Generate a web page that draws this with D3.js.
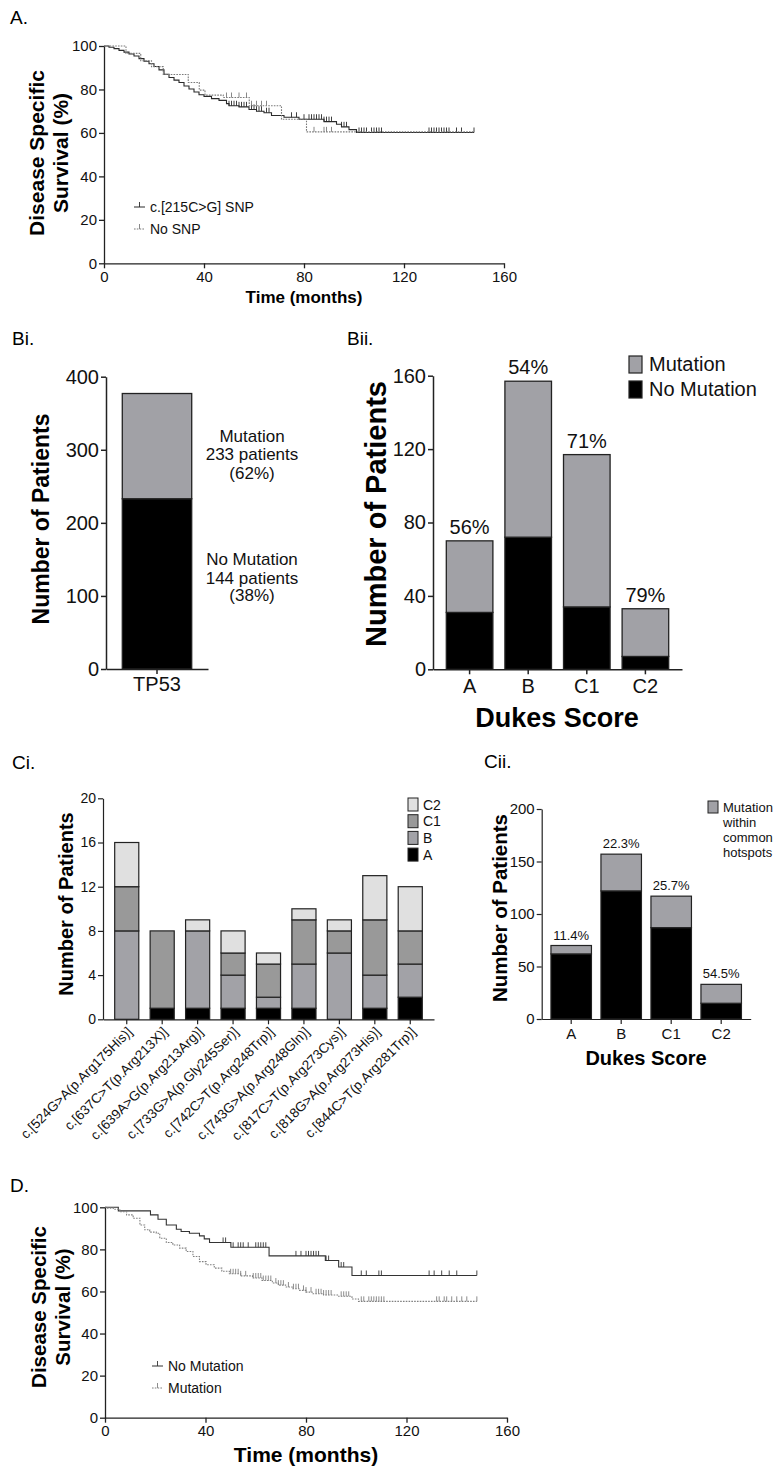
<!DOCTYPE html>
<html>
<head>
<meta charset="utf-8">
<script src="https://cdn.jsdelivr.net/npm/d3@7"></script>
<style>
body { margin: 0; background: #fff; }
svg { display: block; }
</style>
</head>
<body>
<svg width="773" height="1469"></svg>
<script>
// ---- Panel A: survival by SNP (step points [months, %]) ----
var snpSteps = [[0,100],[2,99.4],[4,98.8],[6,98],[8,97.2],[10,96.3],[12,95.4],[14,94.2],[16,93],[18,91.8],[20,90.6],[22,89],[24,87],[26,85.5],[28,84.3],[30,83.2],[32,81.6],[34,80.2],[36,78.8],[38,77.6],[40,76.8],[43,75.8],[46,75],[49,73.5],[50,72.5],[54,72],[58,70.8],[61,70],[64,69.3],[67,68],[72,67.2],[78,66.3],[88,65.2],[93,64],[95,62.8],[98,61.5],[101,60.2]];
var snpCensor = [50,51,52,53,54,55,56,57,59,60,61,62,63,65,66,75,77,80,82,83,84,85,86,87,88,89,90,91,95,96,97,102,103,104,105,107,108,109,110,111,130,131,132,133,134,135,136,137,138,141,143,148];
var noSnpSteps = [[0,100],[8.8,96.6],[14.7,93.2],[19,90.5],[23.7,86.9],[33.7,83.2],[38.1,79.7],[40.4,77.4],[47.7,76.3],[58.1,72.5],[71,66.3],[81,60.5]];
var noSnpCensor = [49,51,54,57,59,61,63,65,84,88,89,91];

// ---- Panel Bi ----
var biGenes = ["TP53"];
var biLower = [233];
var biUpper = [144];

// ---- Panel Bii ----
var dukes = ["A", "B", "C1", "C2"];
var noMutation = [31, 72, 34, 7];
var mutation = [39, 85, 83, 26];
var mutationPct = ["56%", "54%", "71%", "79%"];

// ---- Panel Ci ----
var hotspots = ["c.[524G>A(p.Arg175His)]", "c.[637C>T(p.Arg213X)]", "c.[639A>G(p.Arg213Arg)]",
  "c.[733G>A(p.Gly245Ser)]", "c.[742C>T(p.Arg248Trp)]", "c.[743G>A(p.Arg248Gln)]",
  "c.[817C>T(p.Arg273Cys)]", "c.[818G>A(p.Arg273His)]", "c.[844C>T(p.Arg281Trp)]"];
var ciA  = [0, 1, 1, 1, 1, 1, 0, 1, 2];
var ciB  = [8, 0, 7, 3, 1, 4, 6, 3, 3];
var ciC1 = [4, 7, 0, 2, 3, 4, 2, 5, 3];
var ciC2 = [4, 0, 1, 2, 1, 1, 1, 4, 4];

// ---- Panel Cii ----
var hotspotOther = [62, 122, 87, 15];
var hotspotMut = [8, 35, 30, 18];
var hotspotPct = ["11.4%", "22.3%", "25.7%", "54.5%"];

// ---- Panel D: survival by mutation status ----
var noMutSteps = [[0,100],[5.3,98.3],[18.1,96.4],[21.1,94.3],[24.4,91.6],[28.4,89.6],[30.3,88.5],[33.6,87.7],[37.6,86.4],[39.5,85],[41.6,83.3],[50.1,81],[65.3,76.9],[87.7,74.7],[93,71.6],[98.3,67.6]];
var noMutCensor = [47,48,51,53,54,55,57,60,61,62,63,64,76,78,80,81,82,83,84,85,88,89,94,95,102,104,109,110,129,131,134,137,140,148];
var mutSteps = [[0,100],[1,99.6],[3.3,99.1],[5.9,97.9],[8.6,96.4],[11.2,94.8],[13.9,91.6],[15.8,89.3],[17.8,88.2],[20.4,87.7],[21.8,85.3],[24.4,83.3],[27,82.1],[29.7,80.6],[32.3,79],[35,76.6],[37.6,74.2],[40.2,72.7],[43.5,71.1],[46.5,69.6],[49.5,68.4],[54,67.4],[58.7,66.4],[62.5,65.2],[66.6,64],[69,63],[71.9,62.1],[74.5,61.3],[77.2,60.5],[80,59.7],[82.4,58.9],[87,58.3],[93,57.7],[98.3,56.4],[100.9,55.3]];
var mutCensor = [50,51,52,53,54,56,59,60,61,62,63,64,65,66,68,69,70,71,73,75,76,77,79,80,82,84,85,86,87,88,89,90,94,95,96,97,102,103,105,106,107,108,109,110,111,132,133,135,136,138,140,142,144,148];

var survTicks = [0, 20, 40, 60, 80, 100];
var timeTicks = [0, 40, 80, 120, 160];

var FONT = "'Liberation Sans', Arial, Helvetica, sans-serif";
var GREY = "#a1a1a6";
var svg = d3.select("svg").attr("font-family", FONT);

function styleAxis(g, size, w) {
  g.attr("font-family", FONT).attr("font-size", size);
  g.selectAll("path, line").attr("stroke", "#222").attr("stroke-width", w || 1.3);
  g.selectAll("text").attr("fill", "#111");
}

function panelLabel(txt, x, y) {
  svg.append("text").attr("x", x).attr("y", y).attr("font-size", 19).text(txt);
}

function yTitle(lines, xs, yc, size) {
  lines.forEach(function(t, i) {
    svg.append("text")
      .attr("transform", "translate(" + xs[i] + "," + yc + ") rotate(-90)")
      .attr("text-anchor", "middle").attr("font-weight", "bold")
      .attr("font-size", size).text(t);
  });
}

function stepAt(steps, t) {
  var s = steps[0][1];
  steps.forEach(function(d) { if (d[0] <= t) s = d[1]; });
  return s;
}

function kmPanel(p) {
  var x = d3.scaleLinear().domain([0, 160]).range([p.left, p.right]);
  var y = d3.scaleLinear().domain([0, 100]).range([p.bottom, p.top]);
  var g = svg.append("g");
  var line = d3.line().curve(d3.curveStepAfter)
    .x(function(d) { return x(d[0]); }).y(function(d) { return y(d[1]); });

  p.series.forEach(function(s) {
    var pts = s.steps.concat([[148, s.steps[s.steps.length - 1][1]]]);
    g.append("path").datum(pts)
      .attr("fill", "none").attr("stroke", s.color).attr("stroke-width", s.width)
      .attr("stroke-dasharray", s.dash).attr("d", line);
    g.selectAll(null).data(s.censor).enter().append("line")
      .attr("x1", function(d) { return x(d); }).attr("x2", function(d) { return x(d); })
      .attr("y1", function(d) { return y(stepAt(s.steps, d)); })
      .attr("y2", function(d) { return y(stepAt(s.steps, d)) - 5; })
      .attr("stroke", s.color).attr("stroke-width", 0.9);
  });

  var ax = g.append("g").attr("transform", "translate(0," + p.bottom + ")")
    .call(d3.axisBottom(x).tickValues(timeTicks).tickSize(5).tickSizeOuter(0).tickPadding(3));
  styleAxis(ax, 15);
  var ay = g.append("g").attr("transform", "translate(" + p.left + ",0)")
    .call(d3.axisLeft(y).tickValues(survTicks).tickSize(5).tickSizeOuter(0).tickPadding(2));
  styleAxis(ay, 15);

  // legend
  p.series.forEach(function(s, i) {
    var ly = p.legendY + i * 22;
    g.append("line").attr("x1", p.legendX).attr("x2", p.legendX + 11)
      .attr("y1", ly).attr("y2", ly).attr("stroke", s.color).attr("stroke-width", 1)
      .attr("stroke-dasharray", s.dash);
    g.append("line").attr("x1", p.legendX + 5.5).attr("x2", p.legendX + 5.5)
      .attr("y1", ly).attr("y2", ly - 5).attr("stroke", s.color).attr("stroke-width", 0.9);
    g.append("text").attr("x", p.legendX + 16).attr("y", ly + 5)
      .attr("font-size", 14).attr("fill", "#111").text(s.name);
  });

  svg.append("text").attr("x", (p.left + p.right) / 2).attr("y", p.titleY)
    .attr("text-anchor", "middle").attr("font-weight", "bold")
    .attr("font-size", p.titleSize).text("Time (months)");
}

function stackedBars(p) {
  var x = d3.scaleBand().domain(p.cats).range(p.xr).paddingInner(p.pi).paddingOuter(p.po);
  var y = d3.scaleLinear().domain([0, p.ymax]).range(p.yr);
  var table = p.cats.map(function(c, i) {
    var row = { cat: c };
    p.keys.forEach(function(k, j) { row[k] = p.values[j][i]; });
    return row;
  });
  var series = d3.stack().keys(p.keys)(table);
  var g = svg.append("g");
  series.forEach(function(s, i) {
    g.selectAll(null).data(s.filter(function(d) { return d[1] > d[0]; })).enter().append("rect")
      .attr("x", function(d) { return x(d.data.cat); })
      .attr("width", x.bandwidth())
      .attr("y", function(d) { return y(d[1]); })
      .attr("height", function(d) { return y(d[0]) - y(d[1]); })
      .attr("fill", p.colors[i]).attr("stroke", "#222").attr("stroke-width", p.stroke || 1.3);
  });
  var ax = g.append("g").attr("transform", "translate(0," + p.yr[0] + ")")
    .call(d3.axisBottom(x).tickSize(5).tickSizeOuter(0).tickPadding(p.xpad || 4));
  styleAxis(ax, p.xfont, p.axisW);
  var ay = g.append("g").attr("transform", "translate(" + p.xr[0] + ",0)")
    .call(d3.axisLeft(y).tickValues(p.ticks).tickSize(5).tickSizeOuter(0).tickPadding(2));
  styleAxis(ay, p.yfont, p.axisW);
  if (p.pct) {
    g.selectAll(null).data(table).enter().append("text")
      .attr("x", function(d) { return x(d.cat) + x.bandwidth() / 2; })
      .attr("y", function(d, i) {
        var tot = 0; p.keys.forEach(function(k) { tot += d[k]; });
        return y(tot) - p.pctGap;
      })
      .attr("text-anchor", "middle").attr("font-size", p.pctFont).attr("fill", "#111")
      .text(function(d, i) { return p.pct[i]; });
  }
  return { x: x, y: y, g: g, ax: ax };
}

// ================= Panel A =================
panelLabel("A.", 10, 24);
kmPanel({
  left: 104, right: 504, top: 46, bottom: 263.3,
  legendX: 134, legendY: 207, titleY: 303, titleSize: 17,
  series: [
    { name: "c.[215C>G] SNP", steps: snpSteps, censor: snpCensor, color: "#2a2a2a", width: 1.1, dash: null },
    { name: "No SNP", steps: noSnpSteps, censor: noSnpCensor, color: "#7a7a7a", width: 1.1, dash: "1.6,1.2" }
  ]
});
yTitle(["Disease Specific", "Survival (%)"], [44, 68], 153, 21);

// ================= Panel Bi =================
panelLabel("Bi.", 12, 345);
stackedBars({
  cats: biGenes, keys: ["lower", "upper"], values: [biLower, biUpper],
  colors: ["#000", GREY], xr: [106, 208], yr: [669, 376.7], ymax: 400,
  ticks: [0, 100, 200, 300, 400], pi: 0.19, po: 0.19, xfont: 20, yfont: 20, axisW: 1.5, xpad: 3
});
yTitle(["Number of Patients"], [49], 519, 23);
[["Mutation", 442], ["233 patients", 460], ["(62%)", 479],
 ["No Mutation", 565], ["144 patients", 584], ["(38%)", 601]].forEach(function(t) {
  svg.append("text").attr("x", 252).attr("y", t[1]).attr("text-anchor", "middle")
    .attr("font-size", 17).attr("fill", "#111").text(t[0]);
});

// ================= Panel Bii =================
panelLabel("Bii.", 347, 345);
stackedBars({
  cats: dukes, keys: ["noMut", "mut"], values: [noMutation, mutation],
  colors: ["#000", GREY], xr: [433, 682], yr: [669.3, 375.7], ymax: 160,
  ticks: [0, 40, 80, 120, 160], pi: 0.205, po: 0.227, xfont: 20, yfont: 20, axisW: 1.5, xpad: 5,
  pct: mutationPct, pctGap: 7, pctFont: 20
});
yTitle(["Number of Patients"], [386], 514, 29);
svg.append("text").attr("x", 557).attr("y", 727).attr("text-anchor", "middle")
  .attr("font-weight", "bold").attr("font-size", 27).text("Dukes Score");
[["Mutation", GREY, 356], ["No Mutation", "#000", 381]].forEach(function(l) {
  svg.append("rect").attr("x", 629).attr("y", l[2]).attr("width", 13).attr("height", 17)
    .attr("fill", l[1]).attr("stroke", "#222").attr("stroke-width", 1.2);
  svg.append("text").attr("x", 649).attr("y", l[2] + 15).attr("font-size", 20)
    .attr("fill", "#111").text(l[0]);
});

// ================= Panel Ci =================
panelLabel("Ci.", 12, 769);
var ci = stackedBars({
  cats: hotspots, keys: ["A", "B", "C1", "C2"], values: [ciA, ciB, ciC1, ciC2],
  colors: ["#000", "#a2a2a7", "#999999", "#e0e0e0"], xr: [103, 434], yr: [1019.3, 798.3], ymax: 20,
  ticks: [0, 4, 8, 12, 16, 20], pi: 0.32, po: 0.33, xfont: 13.5, yfont: 14, axisW: 1.2, stroke: 1.2
});
ci.ax.selectAll(".tick text")
  .attr("x", 0).attr("y", 0).attr("dy", "0.35em")
  .attr("text-anchor", "end")
  .attr("transform", "translate(3,10) rotate(-45)");
yTitle(["Number of Patients"], [73], 904, 20);
[["C2", "#e0e0e0"], ["C1", "#999999"], ["B", "#a2a2a7"], ["A", "#000"]].forEach(function(l, i) {
  var ly = 798 + i * 16.7;
  svg.append("rect").attr("x", 408).attr("y", ly).attr("width", 10).attr("height", 13)
    .attr("fill", l[1]).attr("stroke", "#222").attr("stroke-width", 1);
  svg.append("text").attr("x", 423).attr("y", ly + 11.5).attr("font-size", 14)
    .attr("fill", "#111").text(l[0]);
});

// ================= Panel Cii =================
panelLabel("Cii.", 484, 768);
stackedBars({
  cats: dukes, keys: ["other", "hot"], values: [hotspotOther, hotspotMut],
  colors: ["#000", GREY], xr: [541.7, 750.7], yr: [1019, 809], ymax: 200,
  ticks: [0, 50, 100, 150, 200], pi: 0.19, po: 0.185, xfont: 15, yfont: 15, axisW: 1.2, stroke: 1.2,
  pct: hotspotPct, pctGap: 6, pctFont: 13
});
yTitle(["Number of Patients"], [507], 908, 20.5);
svg.append("text").attr("x", 646).attr("y", 1065).attr("text-anchor", "middle")
  .attr("font-weight", "bold").attr("font-size", 20).text("Dukes Score");
svg.append("rect").attr("x", 708).attr("y", 801).attr("width", 10).attr("height", 12)
  .attr("fill", GREY).attr("stroke", "#222").attr("stroke-width", 1);
["Mutation", "within", "common", "hotspots"].forEach(function(t, i) {
  svg.append("text").attr("x", 723).attr("y", 812 + i * 15).attr("font-size", 13)
    .attr("fill", "#111").text(t);
});

// ================= Panel D =================
panelLabel("D.", 10, 1192);
kmPanel({
  left: 105, right: 507, top: 1207.3, bottom: 1417.7,
  legendX: 152, legendY: 1366, titleY: 1462, titleSize: 21,
  series: [
    { name: "No Mutation", steps: noMutSteps, censor: noMutCensor, color: "#333", width: 1.1, dash: null },
    { name: "Mutation", steps: mutSteps, censor: mutCensor, color: "#808080", width: 1.1, dash: "1.6,1.2" }
  ]
});
yTitle(["Disease Specific", "Survival (%)"], [46, 70], 1307, 20.5);
</script>
</body>
</html>
